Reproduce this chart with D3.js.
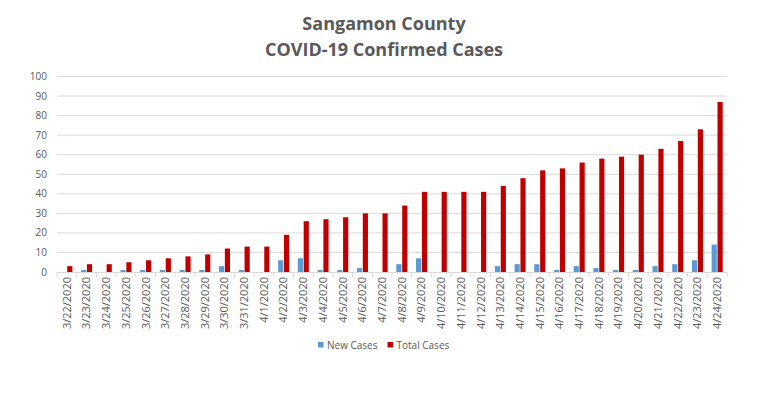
<!DOCTYPE html>
<html>
<head>
<meta charset="utf-8">
<script src="https://cdn.jsdelivr.net/npm/d3@7"></script>
<style>
  body { margin: 0; background: #fff; }
  svg { display: block; }
  text { font-family: "Open Sans", "Liberation Sans", Arial, sans-serif; fill: #595959; }
</style>
</head>
<body>
<svg id="chart" width="774" height="394"></svg>
<script>
// data
const dates = ["3/22/2020", "3/23/2020", "3/24/2020", "3/25/2020", "3/26/2020", "3/27/2020",
  "3/28/2020", "3/29/2020", "3/30/2020", "3/31/2020", "4/1/2020", "4/2/2020", "4/3/2020",
  "4/4/2020", "4/5/2020", "4/6/2020", "4/7/2020", "4/8/2020", "4/9/2020", "4/10/2020",
  "4/11/2020", "4/12/2020", "4/13/2020", "4/14/2020", "4/15/2020", "4/16/2020", "4/17/2020",
  "4/18/2020", "4/19/2020", "4/20/2020", "4/21/2020", "4/22/2020", "4/23/2020", "4/24/2020"];
const newCases = [0, 1, 0, 1, 1, 1, 1, 1, 3, 1, 0, 6, 7, 1, 1, 2, 0, 4, 7, 0,
  0, 0, 3, 4, 4, 1, 3, 2, 1, 1, 3, 4, 6, 14];
const totalCases = [3, 4, 4, 5, 6, 7, 8, 9, 12, 13, 13, 19, 26, 27, 28, 30, 30, 34, 41, 41,
  41, 41, 44, 48, 52, 53, 56, 58, 59, 60, 63, 67, 73, 87];
const seriesNames = ["New Cases", "Total Cases"];
const yTicks = [0, 10, 20, 30, 40, 50, 60, 70, 80, 90, 100];

const colors = {"New Cases": "#5b9bd5", "Total Cases": "#c00000"};

const svg = d3.select("#chart");
const plotLeft = 57, plotRight = 727, plotTop = 76.5, plotBottom = 272;

const rows = dates.map((d, i) => ({date: d, "New Cases": newCases[i], "Total Cases": totalCases[i]}));

const x0 = d3.scaleBand().domain(dates).range([plotLeft, plotRight]).paddingInner(0.44).paddingOuter(0.22);
const x1 = d3.scaleBand().domain(seriesNames).range([0, x0.bandwidth()]).paddingInner(0.12);
const y = d3.scaleLinear().domain([0, 100]).range([plotBottom, plotTop]);

// title
svg.append("text").attr("x", 384).attr("y", 30).attr("text-anchor", "middle")
  .style("font-size", "18px").style("font-weight", "bold").text("Sangamon County");
svg.append("text").attr("x", 384).attr("y", 55.5).attr("text-anchor", "middle")
  .style("font-size", "18px").style("font-weight", "bold").text("COVID-19 Confirmed Cases");

// gridlines
svg.append("g").selectAll("line").data(yTicks.slice(1)).join("line")
  .attr("x1", plotLeft).attr("x2", plotRight)
  .attr("y1", d => y(d)).attr("y2", d => y(d))
  .attr("stroke", "#d9d9d9").attr("stroke-width", 1);

// y labels
svg.append("g").selectAll("text").data(yTicks).join("text")
  .attr("x", 47).attr("y", d => y(d)).attr("dy", "0.35em")
  .attr("text-anchor", "end").style("font-size", "10px").text(d => d);

// bars
const groups = svg.append("g").selectAll("g").data(rows).join("g")
  .attr("transform", d => `translate(${x0(d.date)},0)`);
groups.selectAll("rect").data(d => seriesNames.map(k => ({k, v: d[k]}))).join("rect")
  .attr("x", d => x1(d.k))
  .attr("width", x1.bandwidth())
  .attr("y", d => y(d.v))
  .attr("height", d => plotBottom - y(d.v))
  .attr("fill", d => colors[d.k]);

// x axis line and ticks
svg.append("line").attr("x1", plotLeft).attr("x2", plotRight)
  .attr("y1", plotBottom + 0.5).attr("y2", plotBottom + 0.5)
  .attr("stroke", "#d9d9d9");
const step = x0.step();
svg.append("g").selectAll("line").data(d3.range(dates.length + 1)).join("line")
  .attr("x1", i => plotLeft + i * step).attr("x2", i => plotLeft + i * step)
  .attr("y1", plotBottom).attr("y2", plotBottom + 5)
  .attr("stroke", "#d9d9d9");

// x labels
svg.append("g").selectAll("text").data(dates).join("text")
  .attr("transform", d => `translate(${x0(d) + x0.bandwidth() / 2},277) rotate(-90)`)
  .attr("dy", "0.35em").attr("text-anchor", "end")
  .style("font-size", "11px").text(d => d);

// legend
const legend = svg.append("g").attr("transform", "translate(318,342)");
const items = [{k: "New Cases", x: 0}, {k: "Total Cases", x: 69.5}];
items.forEach(it => {
  legend.append("rect").attr("x", it.x).attr("y", 0).attr("width", 5.5).attr("height", 5.5)
    .attr("fill", colors[it.k]);
  legend.append("text").attr("x", it.x + 9).attr("y", 3).attr("dy", "0.35em")
    .style("font-size", "10px").text(it.k);
});
</script>
</body>
</html>
